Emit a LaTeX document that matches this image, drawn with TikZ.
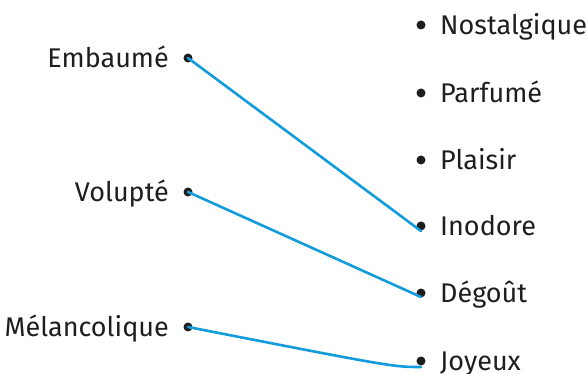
\documentclass[tikz,border=0pt]{standalone}
\usepackage{fontspec}
\setmainfont{Fira Sans}
\usetikzlibrary{positioning}
\definecolor{ink}{HTML}{1E1E1E}
\definecolor{wire}{HTML}{129CDB}

\begin{document}
\begin{tikzpicture}[x=1pt, y=1pt,
  dot/.style={circle, fill=ink, inner sep=0pt, minimum size=9pt},
  word/.style={font=\fontsize{27}{31}\selectfont, text=ink, inner sep=0pt},
  link/.style={wire, line width=2.6pt, line cap=round}
]
  \useasboundingbox (0,0) rectangle (588,374);
  % left column
  \node[dot] (emb) at (188, 316) {};
  \node[dot] (vol) at (188, 182) {};
  \node[dot] (mel) at (188, 47) {};
  \node[word, anchor=base east] at ([xshift=-19pt, yshift=-10pt]emb.center) {Embaumé};
  \node[word, anchor=base east] at ([xshift=-19pt, yshift=-10pt]vol.center) {Volupté};
  \node[word, anchor=base east] at ([xshift=-19pt, yshift=-10pt]mel.center) {Mélancolique};
  % right column
  \node[dot] (nos) at (421, 349) {};
  \node[dot] (par) at (421, 281) {};
  \node[dot] (pla) at (421, 214) {};
  \node[dot] (ino) at (421, 148) {};
  \node[dot] (deg) at (421, 81) {};
  \node[dot] (joy) at (421, 13) {};
  \node[word, anchor=base west] at ([xshift=19pt, yshift=-10pt]nos.center) {Nostalgique};
  \node[word, anchor=base west] at ([xshift=19pt, yshift=-10pt]par.center) {Parfumé};
  \node[word, anchor=base west] at ([xshift=19pt, yshift=-10pt]pla.center) {Plaisir};
  \node[word, anchor=base west] at ([xshift=19pt, yshift=-10pt]ino.center) {Inodore};
  \node[word, anchor=base west] at ([xshift=19pt, yshift=-10pt]deg.center) {Dégoût};
  \node[word, anchor=base west] at ([xshift=19pt, yshift=-10pt]joy.center) {Joyeux};
  % answers
  \draw[link] (emb.center) -- ([yshift=-5pt]ino.center);
  \draw[link] (vol.center) -- ([yshift=-4pt]deg.center);
  \draw[link] (mel.center) .. controls ([xshift=-28pt, yshift=-6pt]joy.center) .. ([yshift=-6pt]joy.center);
\end{tikzpicture}
\end{document}
